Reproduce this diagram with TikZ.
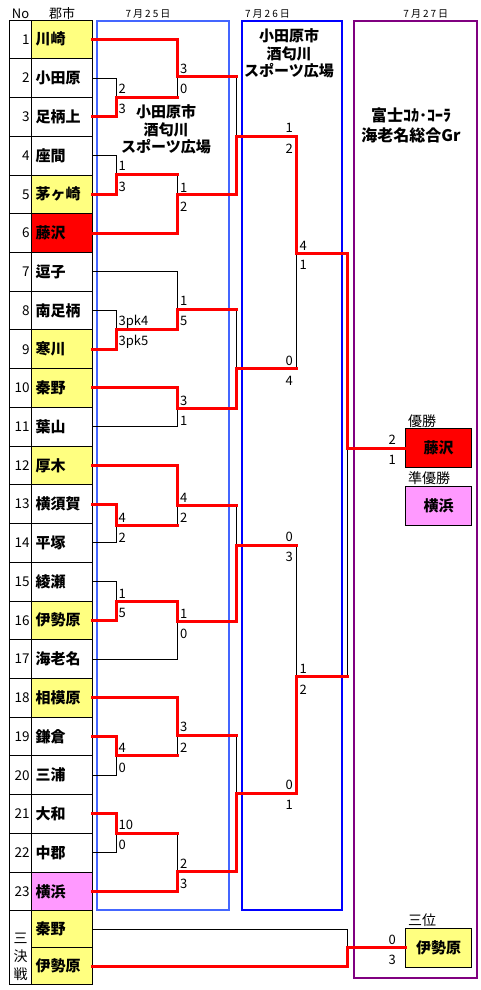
\documentclass[tikz,border=0pt]{standalone}
\usepackage{fontspec}
\setmainfont{Noto Sans CJK JP}
\newfontfamily\datefont[LetterSpace=20]{Noto Sans CJK JP}
\definecolor{yel}{HTML}{FFFF80}
\definecolor{pnk}{HTML}{FF99FF}
\definecolor{blueA}{HTML}{4466FF}
\definecolor{blueB}{HTML}{0000FF}
\definecolor{purp}{HTML}{800080}
\tikzset{
  win/.style={red, line width=3pt, line join=miter, line cap=rect},
  lose/.style={black, line width=0.8pt},
  cellbox/.style={draw, line width=0.8pt, minimum width=60.6pt, minimum height=38.73pt,
     text width=53pt, inner xsep=3.8pt, inner ysep=0pt, align=left,
     font=\bfseries\fontsize{15}{15}\selectfont},
  numbox/.style={draw, line width=0.8pt, minimum width=22.4pt, minimum height=38.73pt,
     text width=18.4pt, inner xsep=2pt, inner ysep=0pt, align=right,
     font=\fontsize{13.5}{13.5}\selectfont},
  sc/.style={anchor=base west, inner sep=0pt, font=\fontsize{13}{13}\selectfont},
  scr/.style={anchor=base east, inner sep=0pt, font=\fontsize{13}{13}\selectfont},
  hdr/.style={inner sep=0pt, font=\fontsize{13}{13}\selectfont},
  datehdr/.style={inner sep=0pt, font=\datefont\fontsize{10}{10}\selectfont},
  venue/.style={inner sep=0pt, align=center, font=\bfseries\fontsize{15}{17.5}\selectfont},
  resbox/.style={draw, line width=0.8pt, minimum width=65.6pt, minimum height=39pt, inner sep=0pt,
     font=\bfseries\fontsize{15}{15}\selectfont},
  reslabel/.style={anchor=west, inner sep=0pt, font=\fontsize{14}{14}\selectfont},
}
\begin{document}
\begin{tikzpicture}[x=1pt,y=-1pt]
\useasboundingbox (0,0) rectangle (480,990);
\fill[white] (0,0) rectangle (480,990);

% headers
\node[hdr] (hno) at (20.5,13.5) {No};
\node[hdr] (hcity) at (62,13.5) {郡市};
\node[datehdr] (d25) at (148,14) {7月25日};
\node[datehdr] (d26) at (267.5,14) {7月26日};
\node[datehdr] (d27) at (425.8,14) {7月27日};

% venue frames
\draw[blueA, line width=2pt] (96.7,20.7) rectangle (229.3,910);
\draw[blueB, line width=2pt] (241.7,20.7) rectangle (342.3,910);
\draw[purp, line width=2pt] (354,20.7) rectangle (476.7,978.3);
\node[venue] (v1) at (166,129.5) {小田原市\\酒匂川\\スポーツ広場};
\node[venue] (v2) at (289,53.5) {小田原市\\酒匂川\\スポーツ広場};
\node[venue, font=\bfseries\fontsize{16}{20}\selectfont] (v3) at (411,125) {富士ｺｶ･ｺｰﾗ\\海老名総合Gr};

% table
\foreach \i/\nm/\col in {1/川崎/yel, 2/小田原/white, 3/足柄上/white, 4/座間/white,
  5/茅ヶ崎/yel, 6/藤沢/red, 7/逗子/white, 8/南足柄/white, 9/寒川/yel, 10/秦野/yel,
  11/葉山/white, 12/厚木/yel, 13/横須賀/white, 14/平塚/white, 15/綾瀬/white,
  16/伊勢原/yel, 17/海老名/white, 18/相模原/yel, 19/鎌倉/white, 20/三浦/white,
  21/大和/white, 22/中郡/white, 23/横浜/pnk} {
  \pgfmathsetmacro\yc{20+(\i-0.5)*38.73}
  \node[numbox] (n\i) at (20.5,\yc) {\i};
  \node[cellbox, fill=\col] (c\i) at (62,\yc) {\nm};
}
\node[draw, line width=0.8pt, minimum width=22.4pt, minimum height=73.6pt, inner sep=0pt] (n24) at (20.5,947.5) {};
\node[inner sep=0pt, align=center, font=\fontsize{14}{18}\selectfont] (sanketsu) at (20.5,957) {三\\決\\戦};
\node[cellbox, fill=yel, minimum height=37pt] (t1) at (62,929.2) {秦野};
\node[cellbox, fill=yel, minimum height=36.6pt] (t2) at (62,966) {伊勢原};

% result boxes
\node[resbox, fill=red] (champ) at (438.5,448.2) {藤沢};
\node[resbox, fill=pnk, minimum height=38.6pt] (runner) at (438.5,506) {横浜};
\node[resbox, fill=yel] (third) at (438.5,947.8) {伊勢原};
\node[reslabel] (lchamp) at (408,421.5) {優勝};
\node[reslabel] (lrunner) at (408,478) {準優勝};
\node[reslabel] (lthird) at (408,920) {三位};

% junction coordinates
\def\xa{116.7}\def\xb{177.3}\def\xc{236}\def\xd{296.7}\def\xe{347.3}
\coordinate (A) at (\xa,97);      \coordinate (Ax) at (\xb,97);
\coordinate (B) at (\xb,76.7);    \coordinate (Bx) at (\xc,76.7);
\coordinate (C) at (\xa,174.5);   \coordinate (Cx) at (\xb,174.5);
\coordinate (D) at (\xb,194.5);   \coordinate (Dx) at (\xc,194.5);
\coordinate (E) at (\xc,136.7);   \coordinate (Ex) at (\xd,136.7);
\coordinate (F1) at (\xa,329.5);  \coordinate (F1x) at (\xb,329.5);
\coordinate (F) at (\xb,309.5);   \coordinate (Fx) at (\xc,309.5);
\coordinate (G) at (\xb,408.5);   \coordinate (Gx) at (\xc,408.5);
\coordinate (H) at (\xc,368.5);   \coordinate (Hx) at (\xd,368.5);
\coordinate (S1) at (\xd,253.5);  \coordinate (S1x) at (\xe,253.5);
\coordinate (I1) at (\xa,525);    \coordinate (I1x) at (\xb,525);
\coordinate (I) at (\xb,505);     \coordinate (Ix) at (\xc,505);
\coordinate (J1) at (\xa,601.7);  \coordinate (J1x) at (\xb,601.7);
\coordinate (J) at (\xb,621);     \coordinate (Jx) at (\xc,621);
\coordinate (K) at (\xc,545);     \coordinate (Kx) at (\xd,545);
\coordinate (L1) at (\xa,755);    \coordinate (L1x) at (\xb,755);
\coordinate (L) at (\xb,735.5);   \coordinate (Lx) at (\xc,735.5);
\coordinate (M1) at (\xa,833.3);  \coordinate (M1x) at (\xb,833.3);
\coordinate (M) at (\xb,871.7);   \coordinate (Mx) at (\xc,871.7);
\coordinate (N) at (\xc,793.3);   \coordinate (Nx) at (\xd,793.3);
\coordinate (S2) at (\xd,676.7);  \coordinate (S2x) at (\xe,676.7);
\coordinate (Fin) at (\xe,448.2);
\coordinate (T) at (\xe,947.8);

% losing paths
\draw[lose] (c2.east) -| (A);
\draw[lose] (Ax) -- (B);
\draw[lose] (c4.east) -| (C);
\draw[lose] (Cx) -- (D);
\draw[lose] (Bx) -- (E);
\draw[lose] (c8.east) -| (F1);
\draw[lose] (c7.east) -| (F);
\draw[lose] (c11.east) -| (G);
\draw[lose] (Fx) -- (H);
\draw[lose] (Hx) -- (S1);
\draw[lose] (c14.east) -| (I1);
\draw[lose] (I1x) -- (I);
\draw[lose] (c15.east) -| (J1);
\draw[lose] (c17.east) -| (J);
\draw[lose] (Ix) -- (K);
\draw[lose] (c20.east) -| (L1);
\draw[lose] (L1x) -- (L);
\draw[lose] (c22.east) -| (M1);
\draw[lose] (M1x) -- (M);
\draw[lose] (Lx) -- (N);
\draw[lose] (Kx) -- (S2);
\draw[lose] (S2x) -- (Fin);
\draw[lose] (t1.east) -| (T);

% winning paths
\draw[win] (c3.east) -| (A) -- (Ax);
\draw[win] (c1.east) -| (B) -- (Bx);
\draw[win] (c5.east) -| (C) -- (Cx);
\draw[win] (c6.east) -| (D) -- (Dx);
\draw[win] (Dx) -- (E) -- (Ex);
\draw[win] (c9.east) -| (F1) -- (F1x);
\draw[win] (F1x) -- (F) -- (Fx);
\draw[win] (c10.east) -| (G) -- (Gx);
\draw[win] (Gx) -- (H) -- (Hx);
\draw[win] (Ex) -- (S1) -- (S1x);
\draw[win] (c13.east) -| (I1) -- (I1x);
\draw[win] (c12.east) -| (I) -- (Ix);
\draw[win] (c16.east) -| (J1) -- (J1x);
\draw[win] (J1x) -- (J) -- (Jx);
\draw[win] (Jx) -- (K) -- (Kx);
\draw[win] (c19.east) -| (L1) -- (L1x);
\draw[win] (c18.east) -| (L) -- (Lx);
\draw[win] (c21.east) -| (M1) -- (M1x);
\draw[win] (c23.east) -| (M) -- (Mx);
\draw[win] (Mx) -- (N) -- (Nx);
\draw[win] (Nx) -- (S2) -- (S2x);
\draw[win] (S1x) -- (Fin) -- (champ.west);
\draw[win] (t2.east) -| (T) -- (third.west);

% scores round 1
\node[sc] (sA1) at (118.5,93.8) {2};   \node[sc] (sA2) at (118.5,113.8) {3};
\node[sc] (sC1) at (118.5,170.8) {1};  \node[sc] (sC2) at (118.5,191.8) {3};
\node[sc] (sF11) at (118.5,325.8) {3pk4}; \node[sc] (sF12) at (118.5,345.5) {3pk5};
\node[sc] (sI11) at (118.5,522.1) {4}; \node[sc] (sI12) at (118.5,542.1) {2};
\node[sc] (sJ11) at (118.5,598.1) {1}; \node[sc] (sJ12) at (118.5,617.5) {5};
\node[sc] (sL11) at (118.5,752.1) {4}; \node[sc] (sL12) at (118.5,772.1) {0};
\node[sc] (sM11) at (118.5,829.8) {10}; \node[sc] (sM12) at (118.5,849.8) {0};
% round 2
\node[sc] (sB1) at (180,73.8) {3};   \node[sc] (sB2) at (180,93.8) {0};
\node[sc] (sD1) at (180,192.5) {1};  \node[sc] (sD2) at (180,211.8) {2};
\node[sc] (sF1) at (180,305.8) {1};  \node[sc] (sF2) at (180,325.8) {5};
\node[sc] (sG1) at (180,405.8) {3};  \node[sc] (sG2) at (180,425.8) {1};
\node[sc] (sI1) at (180,502.1) {4};  \node[sc] (sI2) at (180,522.1) {2};
\node[sc] (sJ1) at (180,618.1) {1};  \node[sc] (sJ2) at (180,638.1) {0};
\node[sc] (sL1) at (180,731.5) {3};  \node[sc] (sL2) at (180,752.1) {2};
\node[sc] (sM1) at (180,868.1) {2};  \node[sc] (sM2) at (180,888.1) {3};
% round 3
\node[scr] (sE1) at (293,132.8) {1}; \node[scr] (sE2) at (293,153.8) {2};
\node[scr] (sH1) at (293,365.5) {0}; \node[scr] (sH2) at (293,385.8) {4};
\node[scr] (sK1) at (293,541.5) {0}; \node[scr] (sK2) at (293,561.5) {3};
\node[scr] (sN1) at (293,789.8) {0}; \node[scr] (sN2) at (293,809.8) {1};
% round 4
\node[sc] (sS11) at (299.5,250.5) {4}; \node[sc] (sS12) at (299.5,269.8) {1};
\node[sc] (sS21) at (299.5,673.1) {1}; \node[sc] (sS22) at (299.5,694.1) {2};
% final and third place
\node[scr] (sFin1) at (396,444.1) {2}; \node[scr] (sFin2) at (396,464.1) {1};
\node[scr] (sT1) at (396,944.1) {0};   \node[scr] (sT2) at (396,964.1) {3};
\end{tikzpicture}
\end{document}
